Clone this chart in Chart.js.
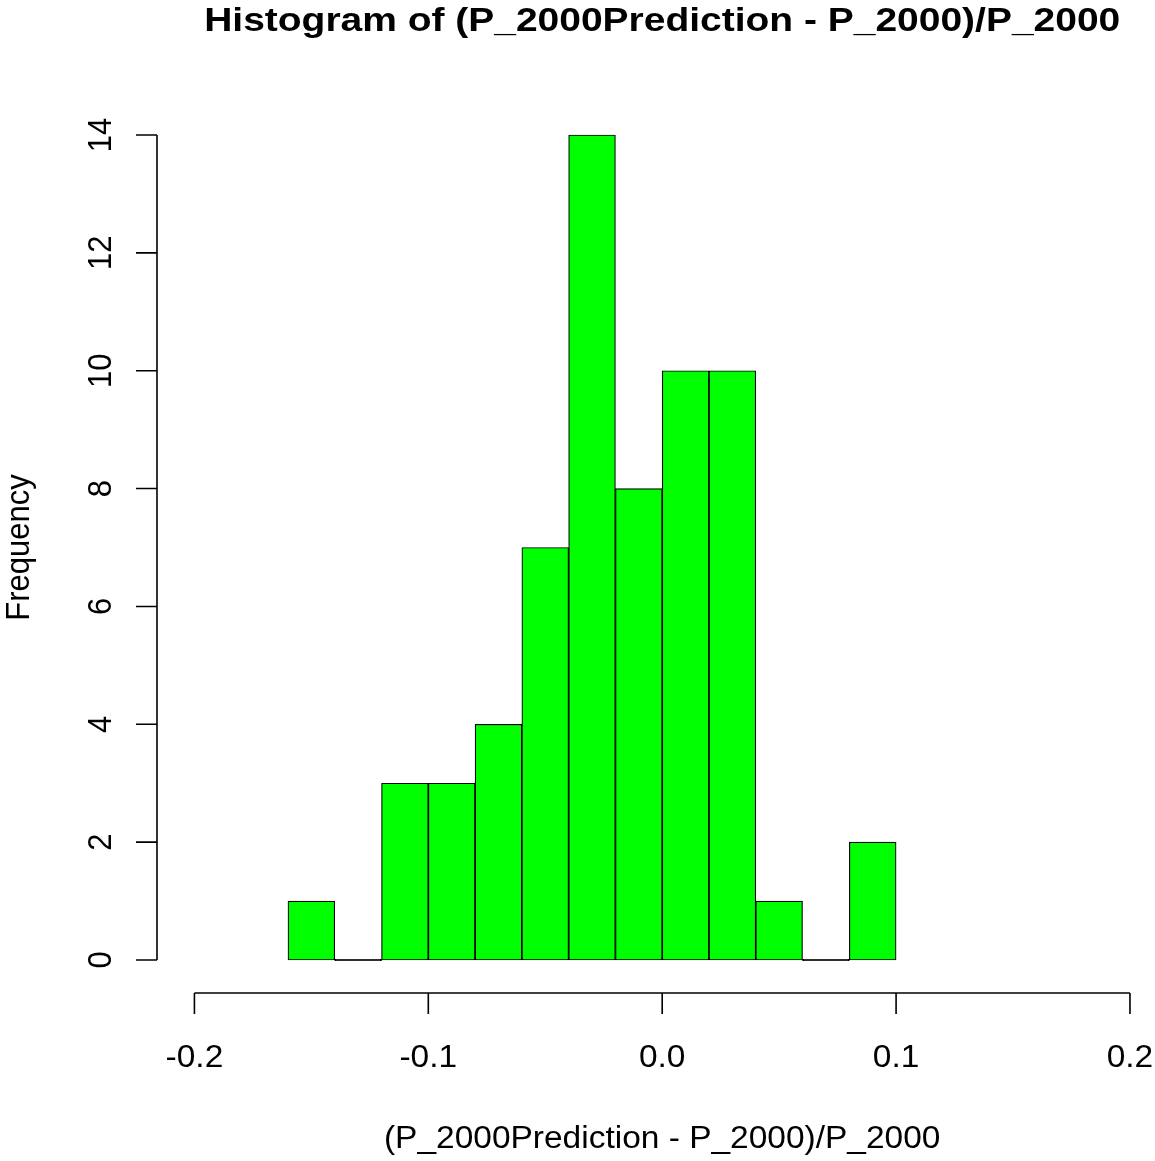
<!DOCTYPE html>
<html>
<head>
<meta charset="utf-8">
<script src="https://cdn.jsdelivr.net/npm/chart.js@4.4.1/dist/chart.umd.min.js"></script>
<style>
  html, body { margin: 0; padding: 0; background: #ffffff; }
  #wrap { width: 1155px; height: 1161px; }
</style>
</head>
<body>
<div id="wrap"><canvas id="histChart" width="1155" height="1161"></canvas></div>
<script>
// Histogram data (bin width 0.02)
const binBreaks = [-0.16, -0.14, -0.12, -0.10, -0.08, -0.06, -0.04, -0.02, 0.00, 0.02, 0.04, 0.06, 0.08, 0.10];
const binCounts = [1, 0, 3, 3, 4, 7, 14, 8, 10, 10, 1, 0, 2];
const xTickValues = [-0.2, -0.1, 0.0, 0.1, 0.2];
const xTickLabels = ['-0.2', '-0.1', '0.0', '0.1', '0.2'];
const yTickValues = [0, 2, 4, 6, 8, 10, 12, 14];

const titleText = 'Histogram of (P_2000Prediction - P_2000)/P_2000';
const xLabelText = '(P_2000Prediction - P_2000)/P_2000';
const yLabelText = 'Frequency';

const FONT = '"Liberation Sans", Arial, sans-serif';
const STRETCH = 1.08; // the reference text is a little wider than tall

// bar positions = bin midpoints
const points = binCounts.map((c, i) => ({
    x: (binBreaks[i] + binBreaks[i + 1]) / 2,
    y: c
}));

// empty bins show up as a flat outline on the baseline, like R's rect()
const barColors = binCounts.map(c => c === 0 ? '#000000' : '#00ff00');

function drawText(ctx, text, x, y, font, sx, rotate) {
    ctx.save();
    ctx.font = font;
    ctx.textAlign = 'center';
    ctx.textBaseline = 'middle';
    ctx.translate(x, y);
    ctx.scale(sx, 1);
    if (rotate) {
        ctx.rotate(-Math.PI / 2);
    }
    ctx.fillText(text, 0, 0);
    ctx.restore();
}

// R-style detached axes, drawn from the chart's own scales
const rAxes = {
    id: 'rAxes',
    afterDraw(chart) {
        const ctx = chart.ctx;
        const xs = chart.scales.x;
        const ys = chart.scales.y;
        const area = chart.chartArea;
        const tickLen = 21;
        const tickFont = '31px ' + FONT;

        ctx.save();
        ctx.strokeStyle = '#000000';
        ctx.lineWidth = 1.6;
        ctx.fillStyle = '#000000';

        // x axis
        const xAxisY = area.bottom;
        const x0 = xs.getPixelForValue(xTickValues[0]);
        const x1 = xs.getPixelForValue(xTickValues[xTickValues.length - 1]);
        ctx.beginPath();
        ctx.moveTo(x0, xAxisY);
        ctx.lineTo(x1, xAxisY);
        xTickValues.forEach(v => {
            const px = xs.getPixelForValue(v);
            ctx.moveTo(px, xAxisY);
            ctx.lineTo(px, xAxisY + tickLen);
        });
        ctx.stroke();

        xTickValues.forEach((v, i) => {
            drawText(ctx, xTickLabels[i], xs.getPixelForValue(v), 1058, tickFont, STRETCH, false);
        });

        // y axis
        const yAxisX = area.left;
        const yA = ys.getPixelForValue(yTickValues[0]);
        const yB = ys.getPixelForValue(yTickValues[yTickValues.length - 1]);
        ctx.beginPath();
        ctx.moveTo(yAxisX, yA);
        ctx.lineTo(yAxisX, yB);
        yTickValues.forEach(v => {
            const py = ys.getPixelForValue(v);
            ctx.moveTo(yAxisX, py);
            ctx.lineTo(yAxisX - tickLen, py);
        });
        ctx.stroke();

        yTickValues.forEach(v => {
            drawText(ctx, String(v), 102, ys.getPixelForValue(v), tickFont, STRETCH, true);
        });

        // titles
        const midX = (area.left + xs.getPixelForValue(0.216)) / 2;
        drawText(ctx, titleText, midX, 22, 'bold 34px ' + FONT, 1.146, false);
        drawText(ctx, xLabelText, midX, 1139, '31px ' + FONT, STRETCH, false);
        drawText(ctx, yLabelText, 20, (area.top + area.bottom) / 2, '31px ' + FONT, STRETCH, true);

        ctx.restore();
    }
};

const ctx = document.getElementById('histChart').getContext('2d');
const histChart = new Chart(ctx, {
    type: 'bar',
    data: {
        datasets: [{
            label: 'Frequency',
            data: points,
            backgroundColor: barColors,
            borderColor: '#000000',
            borderWidth: 1.2,
            borderSkipped: false,
            minBarLength: 1.5,
            barPercentage: 1.0,
            categoryPercentage: 1.0
        }]
    },
    options: {
        responsive: false,
        animation: false,
        layout: {
            padding: { left: 157, top: 102, right: 0, bottom: 168 }
        },
        plugins: {
            legend: { display: false },
            title: { display: false },
            tooltip: { enabled: false }
        },
        scales: {
            x: {
                type: 'linear',
                display: false,
                min: -0.216,
                max: 0.2107,
                offset: false
            },
            y: {
                type: 'linear',
                display: false,
                min: -0.56,
                max: 14.56
            }
        }
    },
    plugins: [rAxes]
});
</script>
</body>
</html>
